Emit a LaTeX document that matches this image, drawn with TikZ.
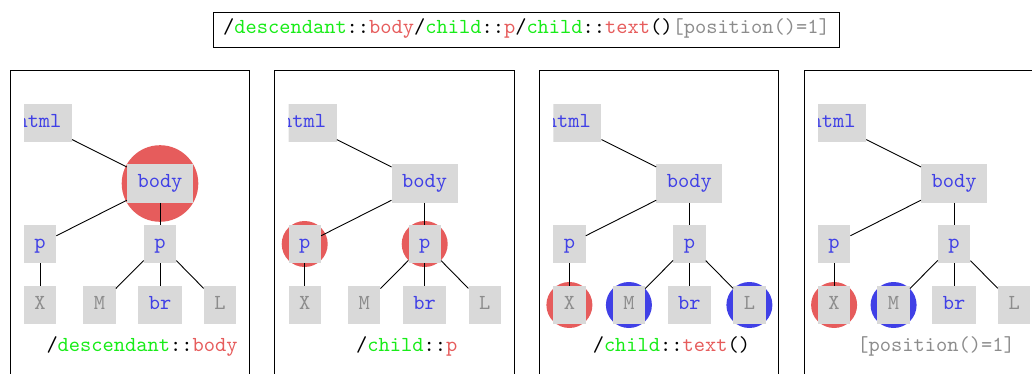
\documentclass[tikz,border=0pt]{standalone}
\usepackage{fontspec}
\usetikzlibrary{backgrounds}
\newfontfamily\codefont{lmmono10-regular.otf}
\definecolor{hlred}{RGB}{230,92,92}
\definecolor{hlblue}{RGB}{64,64,230}
\definecolor{axisgreen}{RGB}{24,236,24}
\definecolor{boxgray}{RGB}{217,217,217}
\definecolor{txtgray}{RGB}{140,140,140}
\tikzset{
  code/.style={font=\fontsize{21.4}{25}\codefont, text height=13pt, text depth=4.4pt},
  tnode/.style={code, fill=boxgray, inner xsep=10.5pt, inner ysep=0pt, minimum height=38.5pt},
  elemtxt/.style={text=hlblue},
  leaftxt/.style={text=txtgray},
  treeedge/.style={draw=black, line width=0.9pt},
  panelbox/.style={draw=black, line width=1pt},
  caption/.style={code, inner sep=0pt},
}
\newcommand\ax[1]{\textcolor{axisgreen}{#1}}
\newcommand\nt[1]{\textcolor{hlred}{#1}}
\newcommand\pr[1]{\textcolor{txtgray}{#1}}
% one DOM tree inside a panel; #1 = name prefix, #2 = left edge of the panel
\newcommand\drawdomtree[2]{%
  \begin{scope}[shift={(#2,0)}]
    \draw[panelbox] (0,71) rectangle (239.3,400);
    \begin{scope}
      \clip (14,90) rectangle (80,160);
      \node[tnode,elemtxt] (#1html) at (29,123) {html};
    \end{scope}
    \node[tnode,elemtxt] (#1body) at (150,183.5) {body};
    \node[tnode,elemtxt] (#1pa) at (30,244) {p};
    \node[tnode,elemtxt] (#1pb) at (150,244) {p};
    \node[tnode,leaftxt] (#1X) at (30,305) {X};
    \node[tnode,leaftxt] (#1M) at (89.5,305) {M};
    \node[tnode,elemtxt] (#1br) at (150,305) {br};
    \node[tnode,leaftxt] (#1L) at (210,305) {L};
    \draw[treeedge] (#1html) -- (#1body);
    \draw[treeedge] (#1body) -- (#1pa);
    \draw[treeedge] (#1body) -- (#1pb);
    \draw[treeedge] (#1pa) -- (#1X);
    \draw[treeedge] (#1pb) -- (#1M);
    \draw[treeedge] (#1pb) -- (#1br);
    \draw[treeedge] (#1pb) -- (#1L);
  \end{scope}}
\begin{document}
\begin{tikzpicture}[x=1pt,y=-1pt]
  \useasboundingbox (0,0) rectangle (1032,374);
  \clip (0,0) rectangle (1032,374);

  % full location path
  \node[code, draw=black, line width=0.9pt, inner xsep=9.5pt, inner ysep=0pt, minimum height=35pt]
    (path) at (526.5,29.5)
    {/\ax{descendant}::\nt{body}/\ax{child}::\nt{p}/\ax{child}::\nt{text}()\pr{[position()=1]}};

  % the four steps
  \drawdomtree{a}{10}
  \drawdomtree{b}{274.7}
  \drawdomtree{c}{539.4}
  \drawdomtree{d}{804.1}

  \node[caption] (capa) at (142,347) {/\ax{descendant}::\nt{body}};
  \node[caption] (capb) at (406.7,347) {/\ax{child}::\nt{p}};
  \node[caption] (capc) at (671.4,347) {/\ax{child}::\nt{text}()};
  \node[caption] (capd) at (936.1,347) {\pr{[position()=1]}};

  % selected nodes of each step
  \begin{pgfonlayer}{background}
    \fill[hlred] (abody) circle (38.3);
    \fill[hlred] (bpa) circle (23);
    \fill[hlred] (bpb) circle (23);
    \fill[hlred] (cX) circle (23);
    \fill[hlblue] (cM) circle (23);
    \fill[hlblue] (cL) circle (23);
    \fill[hlred] (dX) circle (23);
    \fill[hlblue] (dM) circle (23);
  \end{pgfonlayer}
\end{tikzpicture}
\end{document}
